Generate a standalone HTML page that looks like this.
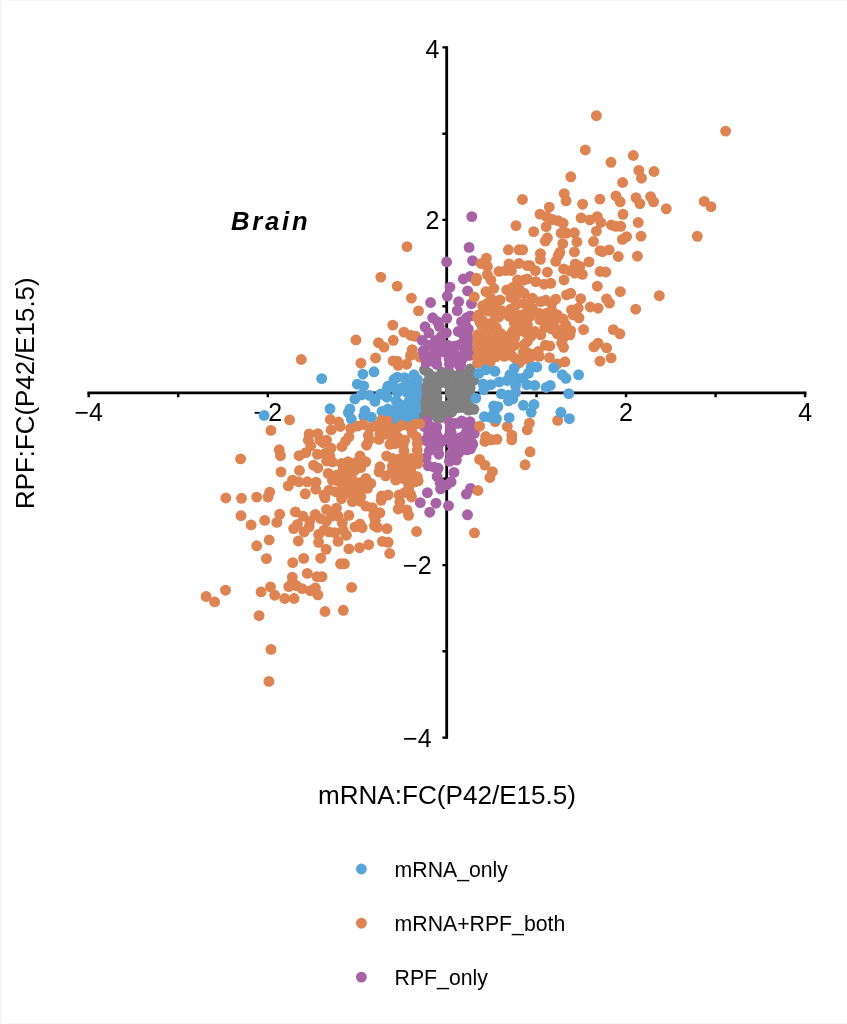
<!DOCTYPE html>
<html lang="en"><head><meta charset="utf-8"><title>Brain RPF vs mRNA fold change</title>
<style>html,body{margin:0;padding:0;background:#fff}svg{display:block;will-change:transform;transform:translateZ(0)}</style></head>
<body>
<svg width="847" height="1024" viewBox="0 0 847 1024">
<rect width="847" height="1024" fill="#fff"/>
<rect x="0" y="0" width="2" height="1024" fill="#f6f6f6"/><rect x="0" y="0" width="847" height="1" fill="#f8f8f8"/><rect x="0" y="1023" width="847" height="1" fill="#f8f8f8"/>
<g stroke="#000" fill="none">
<path d="M87.4 392.9H806.5M446.7 46.2V738.8" stroke-width="2.8"/>
<path d="M88.7 392.9V397.3M446.7 737.6H442.4M178.2 392.9V397.3M446.7 651.3H442.4M267.8 392.9V397.3M446.7 565.1H442.4M357.3 392.9V397.3M446.7 478.8H442.4M536.5 392.9V397.3M446.7 306.2H442.4M626.0 392.9V397.3M446.7 219.9H442.4M715.6 392.9V397.3M446.7 133.7H442.4M805.1 392.9V397.3M446.7 47.4H442.4" stroke-width="2.4"/>
</g>
<g font-family="Liberation Sans, Arial, Helvetica, sans-serif" font-size="25" fill="#000">
<text x="88.7" y="421.2" text-anchor="middle">−4</text>
<text x="267.8" y="421.2" text-anchor="middle">−2</text>
<text x="626.0" y="421.2" text-anchor="middle">2</text>
<text x="805.1" y="421.2" text-anchor="middle">4</text>
<text x="431.6" y="747.0" text-anchor="end">−4</text>
<text x="431.6" y="574.3" text-anchor="end">−2</text>
<text x="439.4" y="229.1" text-anchor="end">2</text>
<text x="439.4" y="57.8" text-anchor="end">4</text>
</g>
<text x="231" y="229.5" font-family="Liberation Sans, Arial, Helvetica, sans-serif" font-size="25.6" font-weight="bold" font-style="italic" letter-spacing="2.8">Brain</text>
<text transform="translate(33.8 393.2) rotate(-90)" text-anchor="middle" font-family="Liberation Sans, Arial, Helvetica, sans-serif" font-size="25.9">RPF:FC(P42/E15.5)</text>
<text x="447" y="804.3" text-anchor="middle" font-family="Liberation Sans, Arial, Helvetica, sans-serif" font-size="26.1">mRNA:FC(P42/E15.5)</text>
<g fill="#57a5d8"><circle cx="321.7" cy="378.6" r="5.45"/><circle cx="264.1" cy="415.4" r="5.45"/><circle cx="330.0" cy="408.8" r="5.45"/><circle cx="362.9" cy="374.2" r="5.45"/><circle cx="374.0" cy="371.8" r="5.45"/><circle cx="357.3" cy="384.2" r="5.45"/><circle cx="363.7" cy="386.0" r="5.45"/><circle cx="354.9" cy="399.0" r="5.45"/><circle cx="361.4" cy="394.9" r="5.45"/><circle cx="369.6" cy="395.5" r="5.45"/><circle cx="375.0" cy="401.4" r="5.45"/><circle cx="349.9" cy="409.0" r="5.45"/><circle cx="348.4" cy="412.6" r="5.45"/><circle cx="351.3" cy="419.1" r="5.45"/><circle cx="364.9" cy="410.8" r="5.45"/><circle cx="363.7" cy="416.1" r="5.45"/><circle cx="371.4" cy="417.3" r="5.45"/><circle cx="380.3" cy="394.3" r="5.45"/><circle cx="386.8" cy="390.1" r="5.45"/><circle cx="386.8" cy="397.2" r="5.45"/><circle cx="393.9" cy="379.5" r="5.45"/><circle cx="397.4" cy="377.2" r="5.45"/><circle cx="404.5" cy="377.7" r="5.45"/><circle cx="413.9" cy="374.8" r="5.45"/><circle cx="417.5" cy="379.5" r="5.45"/><circle cx="392.7" cy="385.4" r="5.45"/><circle cx="402.1" cy="387.8" r="5.45"/><circle cx="409.2" cy="384.2" r="5.45"/><circle cx="416.3" cy="386.6" r="5.45"/><circle cx="397.4" cy="392.5" r="5.45"/><circle cx="406.8" cy="392.5" r="5.45"/><circle cx="413.9" cy="393.7" r="5.45"/><circle cx="418.6" cy="396.0" r="5.45"/><circle cx="396.2" cy="400.8" r="5.45"/><circle cx="399.8" cy="404.3" r="5.45"/><circle cx="409.2" cy="400.8" r="5.45"/><circle cx="416.3" cy="403.1" r="5.45"/><circle cx="382.0" cy="411.4" r="5.45"/><circle cx="387.9" cy="409.0" r="5.45"/><circle cx="393.9" cy="410.2" r="5.45"/><circle cx="403.3" cy="411.4" r="5.45"/><circle cx="411.6" cy="409.0" r="5.45"/><circle cx="417.5" cy="410.2" r="5.45"/><circle cx="385.6" cy="416.1" r="5.45"/><circle cx="393.9" cy="417.3" r="5.45"/><circle cx="402.1" cy="417.3" r="5.45"/><circle cx="409.2" cy="416.1" r="5.45"/><circle cx="413.9" cy="413.8" r="5.45"/><circle cx="396.2" cy="420.8" r="5.45"/><circle cx="406.8" cy="419.7" r="5.45"/><circle cx="418.8" cy="415.5" r="5.45"/><circle cx="419.5" cy="387.0" r="5.45"/><circle cx="388.0" cy="386.2" r="5.45"/><circle cx="418.8" cy="404.2" r="5.45"/><circle cx="406.0" cy="405.8" r="5.45"/></g>
<g fill="#808080"><circle cx="424.5" cy="369.9" r="5.45"/><circle cx="470.1" cy="369.0" r="5.45"/><circle cx="428.6" cy="373.2" r="5.45"/><circle cx="441.9" cy="372.3" r="5.45"/><circle cx="449.4" cy="372.3" r="5.45"/><circle cx="461.0" cy="372.3" r="5.45"/><circle cx="473.4" cy="374.4" r="5.45"/><circle cx="434.4" cy="376.9" r="5.45"/><circle cx="455.2" cy="376.1" r="5.45"/><circle cx="466.0" cy="376.1" r="5.45"/><circle cx="428.2" cy="381.1" r="5.45"/><circle cx="439.4" cy="380.2" r="5.45"/><circle cx="446.9" cy="379.4" r="5.45"/><circle cx="460.2" cy="381.1" r="5.45"/><circle cx="468.5" cy="380.2" r="5.45"/><circle cx="473.9" cy="380.2" r="5.45"/><circle cx="426.9" cy="386.9" r="5.45"/><circle cx="433.6" cy="385.2" r="5.45"/><circle cx="436.9" cy="386.0" r="5.45"/><circle cx="449.4" cy="386.0" r="5.45"/><circle cx="455.2" cy="385.2" r="5.45"/><circle cx="461.8" cy="386.9" r="5.45"/><circle cx="470.1" cy="387.7" r="5.45"/><circle cx="426.9" cy="391.0" r="5.45"/><circle cx="432.8" cy="391.9" r="5.45"/><circle cx="434.4" cy="395.2" r="5.45"/><circle cx="451.9" cy="391.0" r="5.45"/><circle cx="457.7" cy="391.0" r="5.45"/><circle cx="463.5" cy="391.9" r="5.45"/><circle cx="469.8" cy="391.9" r="5.45"/><circle cx="426.9" cy="396.8" r="5.45"/><circle cx="432.8" cy="397.7" r="5.45"/><circle cx="451.9" cy="396.8" r="5.45"/><circle cx="457.7" cy="396.8" r="5.45"/><circle cx="463.5" cy="397.7" r="5.45"/><circle cx="468.5" cy="396.8" r="5.45"/><circle cx="425.7" cy="401.8" r="5.45"/><circle cx="431.9" cy="402.7" r="5.45"/><circle cx="437.7" cy="403.5" r="5.45"/><circle cx="448.5" cy="405.1" r="5.45"/><circle cx="453.5" cy="401.8" r="5.45"/><circle cx="459.3" cy="402.7" r="5.45"/><circle cx="465.1" cy="402.7" r="5.45"/><circle cx="469.3" cy="401.0" r="5.45"/><circle cx="426.1" cy="407.6" r="5.45"/><circle cx="431.9" cy="408.5" r="5.45"/><circle cx="438.6" cy="409.3" r="5.45"/><circle cx="445.2" cy="408.5" r="5.45"/><circle cx="451.9" cy="407.6" r="5.45"/><circle cx="458.5" cy="407.6" r="5.45"/><circle cx="463.5" cy="407.6" r="5.45"/><circle cx="473.9" cy="409.3" r="5.45"/><circle cx="469.3" cy="406.8" r="5.45"/><circle cx="424.5" cy="415.9" r="5.45"/><circle cx="430.3" cy="413.4" r="5.45"/><circle cx="436.9" cy="417.2" r="5.45"/><circle cx="441.1" cy="417.6" r="5.45"/><circle cx="446.9" cy="414.3" r="5.45"/><circle cx="451.9" cy="411.8" r="5.45"/><circle cx="436.5" cy="391.0" r="5.45"/><circle cx="436.9" cy="397.7" r="5.45"/><circle cx="443.1" cy="382.3" r="5.45"/><circle cx="443.6" cy="406.4" r="5.45"/><circle cx="468.5" cy="410.1" r="5.45"/><circle cx="450.2" cy="393.5" r="5.45"/></g>
<g fill="#dd8452"><circle cx="407.0" cy="246.6" r="5.45"/><circle cx="380.8" cy="277.1" r="5.45"/><circle cx="397.2" cy="286.1" r="5.45"/><circle cx="411.4" cy="298.1" r="5.45"/><circle cx="418.5" cy="310.9" r="5.45"/><circle cx="392.8" cy="325.1" r="5.45"/><circle cx="403.9" cy="332.1" r="5.45"/><circle cx="411.0" cy="335.4" r="5.45"/><circle cx="415.5" cy="336.3" r="5.45"/><circle cx="355.9" cy="339.9" r="5.45"/><circle cx="378.5" cy="342.6" r="5.45"/><circle cx="384.0" cy="347.1" r="5.45"/><circle cx="393.3" cy="340.3" r="5.45"/><circle cx="412.2" cy="349.6" r="5.45"/><circle cx="410.5" cy="355.4" r="5.45"/><circle cx="419.7" cy="357.0" r="5.45"/><circle cx="375.6" cy="357.9" r="5.45"/><circle cx="360.9" cy="363.2" r="5.45"/><circle cx="393.1" cy="360.9" r="5.45"/><circle cx="397.2" cy="361.2" r="5.45"/><circle cx="398.1" cy="365.3" r="5.45"/><circle cx="406.7" cy="364.2" r="5.45"/><circle cx="301.3" cy="359.5" r="5.45"/></g>
<g fill="#a763a5"><circle cx="471.8" cy="216.6" r="5.45"/><circle cx="469.1" cy="247.4" r="5.45"/><circle cx="472.5" cy="260.7" r="5.45"/><circle cx="463.3" cy="279.0" r="5.45"/><circle cx="470.0" cy="276.5" r="5.45"/><circle cx="446.6" cy="261.9" r="5.45"/><circle cx="450.0" cy="287.1" r="5.45"/><circle cx="447.3" cy="296.1" r="5.45"/><circle cx="430.6" cy="302.5" r="5.45"/><circle cx="458.6" cy="301.7" r="5.45"/><circle cx="457.2" cy="310.7" r="5.45"/><circle cx="467.6" cy="290.9" r="5.45"/><circle cx="471.4" cy="303.6" r="5.45"/><circle cx="432.7" cy="317.8" r="5.45"/><circle cx="446.8" cy="318.3" r="5.45"/><circle cx="437.4" cy="321.6" r="5.45"/><circle cx="425.1" cy="326.8" r="5.45"/><circle cx="439.3" cy="326.3" r="5.45"/><circle cx="428.9" cy="332.9" r="5.45"/><circle cx="461.5" cy="321.6" r="5.45"/><circle cx="466.7" cy="317.8" r="5.45"/><circle cx="465.7" cy="325.3" r="5.45"/><circle cx="470.4" cy="315.9" r="5.45"/><circle cx="446.4" cy="332.9" r="5.45"/><circle cx="458.2" cy="331.5" r="5.45"/><circle cx="441.2" cy="336.7" r="5.45"/><circle cx="463.8" cy="335.7" r="5.45"/><circle cx="467.6" cy="336.7" r="5.45"/><circle cx="422.3" cy="340.4" r="5.45"/><circle cx="435.5" cy="340.4" r="5.45"/><circle cx="431.7" cy="345.2" r="5.45"/><circle cx="441.2" cy="343.3" r="5.45"/><circle cx="447.8" cy="345.2" r="5.45"/><circle cx="454.4" cy="346.1" r="5.45"/><circle cx="461.0" cy="344.2" r="5.45"/><circle cx="466.7" cy="344.2" r="5.45"/><circle cx="423.2" cy="350.8" r="5.45"/><circle cx="435.5" cy="351.8" r="5.45"/><circle cx="442.1" cy="351.8" r="5.45"/><circle cx="470.4" cy="351.8" r="5.45"/><circle cx="425.3" cy="440.2" r="5.45"/><circle cx="433.0" cy="443.7" r="5.45"/><circle cx="429.4" cy="450.7" r="5.45"/><circle cx="438.8" cy="454.2" r="5.45"/><circle cx="451.7" cy="439.0" r="5.45"/><circle cx="459.9" cy="437.8" r="5.45"/><circle cx="472.8" cy="444.3" r="5.45"/><circle cx="470.5" cy="448.9" r="5.45"/><circle cx="462.3" cy="444.8" r="5.45"/><circle cx="455.2" cy="447.2" r="5.45"/><circle cx="458.7" cy="453.0" r="5.45"/><circle cx="450.5" cy="454.2" r="5.45"/><circle cx="456.4" cy="460.1" r="5.45"/><circle cx="449.4" cy="461.3" r="5.45"/><circle cx="428.3" cy="465.9" r="5.45"/><circle cx="434.1" cy="467.1" r="5.45"/><circle cx="438.2" cy="468.3" r="5.45"/><circle cx="454.0" cy="472.4" r="5.45"/><circle cx="437.1" cy="476.5" r="5.45"/><circle cx="440.0" cy="482.9" r="5.45"/><circle cx="451.1" cy="481.8" r="5.45"/><circle cx="447.0" cy="484.7" r="5.45"/><circle cx="440.6" cy="488.8" r="5.45"/><circle cx="427.4" cy="492.7" r="5.45"/><circle cx="470.5" cy="488.4" r="5.45"/><circle cx="466.4" cy="494.1" r="5.45"/><circle cx="420.3" cy="502.6" r="5.45"/><circle cx="435.9" cy="503.2" r="5.45"/><circle cx="448.5" cy="505.6" r="5.45"/><circle cx="429.7" cy="512.2" r="5.45"/><circle cx="467.5" cy="514.8" r="5.45"/><circle cx="426.1" cy="362.8" r="5.45"/><circle cx="424.5" cy="356.2" r="5.45"/><circle cx="431.9" cy="355.3" r="5.45"/><circle cx="436.9" cy="364.5" r="5.45"/><circle cx="436.1" cy="359.5" r="5.45"/><circle cx="449.4" cy="364.5" r="5.45"/><circle cx="449.0" cy="358.6" r="5.45"/><circle cx="455.2" cy="361.1" r="5.45"/><circle cx="459.3" cy="365.3" r="5.45"/><circle cx="461.8" cy="357.0" r="5.45"/><circle cx="469.3" cy="355.3" r="5.45"/><circle cx="465.1" cy="352.0" r="5.45"/><circle cx="426.9" cy="420.9" r="5.45"/><circle cx="424.5" cy="426.7" r="5.45"/><circle cx="431.1" cy="426.7" r="5.45"/><circle cx="436.9" cy="427.1" r="5.45"/><circle cx="428.6" cy="433.4" r="5.45"/><circle cx="436.1" cy="433.4" r="5.45"/><circle cx="449.4" cy="421.8" r="5.45"/><circle cx="450.2" cy="428.4" r="5.45"/><circle cx="449.4" cy="435.0" r="5.45"/><circle cx="455.2" cy="423.4" r="5.45"/><circle cx="458.5" cy="423.4" r="5.45"/><circle cx="464.3" cy="422.6" r="5.45"/><circle cx="470.1" cy="421.8" r="5.45"/><circle cx="472.6" cy="426.7" r="5.45"/><circle cx="471.4" cy="431.7" r="5.45"/><circle cx="474.3" cy="433.4" r="5.45"/><circle cx="465.1" cy="435.9" r="5.45"/><circle cx="451.9" cy="352.8" r="5.45"/><circle cx="455.2" cy="354.5" r="5.45"/><circle cx="431.1" cy="361.1" r="5.45"/><circle cx="461.8" cy="420.9" r="5.45"/><circle cx="426.1" cy="457.8" r="5.45"/><circle cx="468.3" cy="329.1" r="5.45"/><circle cx="468.0" cy="341.4" r="5.45"/><circle cx="468.3" cy="348.0" r="5.45"/><circle cx="460.8" cy="364.0" r="5.45"/><circle cx="429.2" cy="345.2" r="5.45"/><circle cx="463.8" cy="357.2" r="5.45"/><circle cx="459.2" cy="345.2" r="5.45"/><circle cx="441.5" cy="441.5" r="5.45"/><circle cx="438.5" cy="445.2" r="5.45"/><circle cx="452.0" cy="445.2" r="5.45"/><circle cx="467.0" cy="428.8" r="5.45"/><circle cx="451.2" cy="432.5" r="5.45"/><circle cx="471.5" cy="442.2" r="5.45"/><circle cx="467.0" cy="449.8" r="5.45"/><circle cx="443.8" cy="440.0" r="5.45"/><circle cx="437.0" cy="435.5" r="5.45"/><circle cx="428.8" cy="442.2" r="5.45"/><circle cx="437.8" cy="449.0" r="5.45"/><circle cx="465.5" cy="434.0" r="5.45"/></g>
<g fill="#dd8452"><circle cx="725.6" cy="131.1" r="5.45"/><circle cx="654.0" cy="171.5" r="5.45"/><circle cx="638.9" cy="170.4" r="5.45"/><circle cx="641.5" cy="178.2" r="5.45"/><circle cx="650.6" cy="196.7" r="5.45"/><circle cx="653.6" cy="201.8" r="5.45"/><circle cx="636.0" cy="197.7" r="5.45"/><circle cx="639.9" cy="203.6" r="5.45"/><circle cx="666.3" cy="208.8" r="5.45"/><circle cx="704.2" cy="201.4" r="5.45"/><circle cx="711.0" cy="206.7" r="5.45"/><circle cx="596.4" cy="115.7" r="5.45"/><circle cx="585.3" cy="150.0" r="5.45"/><circle cx="611.0" cy="162.3" r="5.45"/><circle cx="633.3" cy="155.5" r="5.45"/><circle cx="570.8" cy="176.8" r="5.45"/><circle cx="622.6" cy="182.5" r="5.45"/><circle cx="522.4" cy="199.5" r="5.45"/><circle cx="564.2" cy="193.6" r="5.45"/><circle cx="599.9" cy="199.1" r="5.45"/><circle cx="615.9" cy="195.9" r="5.45"/><circle cx="620.2" cy="201.8" r="5.45"/><circle cx="623.0" cy="214.3" r="5.45"/><circle cx="600.0" cy="250.7" r="5.45"/><circle cx="600.0" cy="271.5" r="5.45"/><circle cx="600.0" cy="361.2" r="5.45"/><circle cx="600.8" cy="222.5" r="5.45"/><circle cx="611.3" cy="225.0" r="5.45"/><circle cx="615.8" cy="226.3" r="5.45"/><circle cx="620.8" cy="226.3" r="5.45"/><circle cx="638.2" cy="222.5" r="5.45"/><circle cx="641.0" cy="236.1" r="5.45"/><circle cx="626.6" cy="236.6" r="5.45"/><circle cx="622.4" cy="239.4" r="5.45"/><circle cx="697.3" cy="236.3" r="5.45"/><circle cx="609.1" cy="249.9" r="5.45"/><circle cx="602.5" cy="251.6" r="5.45"/><circle cx="618.3" cy="256.5" r="5.45"/><circle cx="637.4" cy="256.2" r="5.45"/><circle cx="605.8" cy="272.0" r="5.45"/><circle cx="620.3" cy="291.6" r="5.45"/><circle cx="659.3" cy="295.7" r="5.45"/><circle cx="606.6" cy="298.9" r="5.45"/><circle cx="609.5" cy="303.1" r="5.45"/><circle cx="635.7" cy="309.2" r="5.45"/><circle cx="613.3" cy="329.6" r="5.45"/><circle cx="619.9" cy="333.8" r="5.45"/><circle cx="606.6" cy="347.9" r="5.45"/><circle cx="611.1" cy="357.9" r="5.45"/><circle cx="270.9" cy="430.4" r="5.45"/><circle cx="279.2" cy="449.8" r="5.45"/><circle cx="280.5" cy="455.6" r="5.45"/><circle cx="240.6" cy="458.9" r="5.45"/><circle cx="281.0" cy="471.9" r="5.45"/><circle cx="269.7" cy="492.2" r="5.45"/><circle cx="268.0" cy="497.1" r="5.45"/><circle cx="256.7" cy="497.1" r="5.45"/><circle cx="241.5" cy="498.3" r="5.45"/><circle cx="225.8" cy="498.0" r="5.45"/><circle cx="241.0" cy="515.7" r="5.45"/><circle cx="251.1" cy="524.9" r="5.45"/><circle cx="264.7" cy="520.4" r="5.45"/><circle cx="279.7" cy="514.3" r="5.45"/><circle cx="276.8" cy="522.4" r="5.45"/><circle cx="269.2" cy="540.0" r="5.45"/><circle cx="256.7" cy="545.8" r="5.45"/><circle cx="266.4" cy="558.6" r="5.45"/><circle cx="557.7" cy="420.4" r="5.45"/><circle cx="529.4" cy="423.2" r="5.45"/><circle cx="527.3" cy="429.9" r="5.45"/><circle cx="507.3" cy="426.5" r="5.45"/><circle cx="495.2" cy="421.6" r="5.45"/><circle cx="479.6" cy="426.2" r="5.45"/><circle cx="511.8" cy="435.2" r="5.45"/><circle cx="511.8" cy="439.8" r="5.45"/><circle cx="485.7" cy="436.5" r="5.45"/><circle cx="484.9" cy="441.5" r="5.45"/><circle cx="491.6" cy="439.8" r="5.45"/><circle cx="496.9" cy="439.3" r="5.45"/><circle cx="530.1" cy="451.8" r="5.45"/><circle cx="525.1" cy="464.8" r="5.45"/><circle cx="479.6" cy="459.4" r="5.45"/><circle cx="484.9" cy="465.1" r="5.45"/><circle cx="492.4" cy="471.7" r="5.45"/><circle cx="489.9" cy="477.5" r="5.45"/><circle cx="477.9" cy="490.5" r="5.45"/><circle cx="474.5" cy="532.9" r="5.45"/><circle cx="270.5" cy="586.9" r="5.45"/><circle cx="261.1" cy="591.9" r="5.45"/><circle cx="274.7" cy="595.2" r="5.45"/><circle cx="288.8" cy="586.6" r="5.45"/><circle cx="296.3" cy="585.7" r="5.45"/><circle cx="302.1" cy="588.6" r="5.45"/><circle cx="310.4" cy="590.7" r="5.45"/><circle cx="315.4" cy="587.9" r="5.45"/><circle cx="317.9" cy="594.9" r="5.45"/><circle cx="284.7" cy="598.5" r="5.45"/><circle cx="294.1" cy="598.5" r="5.45"/><circle cx="225.5" cy="590.2" r="5.45"/><circle cx="206.1" cy="596.5" r="5.45"/><circle cx="214.6" cy="601.9" r="5.45"/><circle cx="259.1" cy="615.6" r="5.45"/><circle cx="271.0" cy="649.4" r="5.45"/><circle cx="268.9" cy="681.4" r="5.45"/><circle cx="351.6" cy="587.4" r="5.45"/><circle cx="325.0" cy="611.5" r="5.45"/><circle cx="343.3" cy="610.3" r="5.45"/><circle cx="476.0" cy="280.8" r="5.45"/><circle cx="490.9" cy="280.0" r="5.45"/><circle cx="517.5" cy="280.0" r="5.45"/><circle cx="524.1" cy="280.0" r="5.45"/><circle cx="493.8" cy="288.3" r="5.45"/><circle cx="485.9" cy="291.6" r="5.45"/><circle cx="506.7" cy="290.0" r="5.45"/><circle cx="512.5" cy="287.5" r="5.45"/><circle cx="519.1" cy="289.1" r="5.45"/><circle cx="524.1" cy="293.3" r="5.45"/><circle cx="510.8" cy="297.4" r="5.45"/><circle cx="474.3" cy="297.0" r="5.45"/><circle cx="500.0" cy="299.9" r="5.45"/><circle cx="490.9" cy="298.3" r="5.45"/><circle cx="487.6" cy="303.3" r="5.45"/><circle cx="482.6" cy="305.7" r="5.45"/><circle cx="495.1" cy="306.6" r="5.45"/><circle cx="501.7" cy="310.7" r="5.45"/><circle cx="510.8" cy="309.1" r="5.45"/><circle cx="515.8" cy="304.9" r="5.45"/><circle cx="524.1" cy="303.3" r="5.45"/><circle cx="529.1" cy="307.4" r="5.45"/><circle cx="477.5" cy="317.4" r="5.45"/><circle cx="478.9" cy="314.9" r="5.45"/><circle cx="494.6" cy="314.5" r="5.45"/><circle cx="512.5" cy="315.7" r="5.45"/><circle cx="519.1" cy="314.9" r="5.45"/><circle cx="525.8" cy="313.2" r="5.45"/><circle cx="483.4" cy="324.8" r="5.45"/><circle cx="490.9" cy="323.2" r="5.45"/><circle cx="495.1" cy="327.3" r="5.45"/><circle cx="515.8" cy="323.2" r="5.45"/><circle cx="522.5" cy="321.5" r="5.45"/><circle cx="527.4" cy="324.8" r="5.45"/><circle cx="477.5" cy="334.8" r="5.45"/><circle cx="482.6" cy="331.5" r="5.45"/><circle cx="489.3" cy="330.7" r="5.45"/><circle cx="495.9" cy="331.5" r="5.45"/><circle cx="500.0" cy="334.0" r="5.45"/><circle cx="507.5" cy="336.5" r="5.45"/><circle cx="512.5" cy="331.5" r="5.45"/><circle cx="515.8" cy="329.8" r="5.45"/><circle cx="523.3" cy="329.8" r="5.45"/><circle cx="529.1" cy="331.5" r="5.45"/><circle cx="477.5" cy="341.4" r="5.45"/><circle cx="482.6" cy="339.8" r="5.45"/><circle cx="489.3" cy="339.8" r="5.45"/><circle cx="495.9" cy="340.6" r="5.45"/><circle cx="502.5" cy="341.4" r="5.45"/><circle cx="509.2" cy="342.3" r="5.45"/><circle cx="514.2" cy="344.8" r="5.45"/><circle cx="524.1" cy="344.8" r="5.45"/><circle cx="527.4" cy="341.4" r="5.45"/><circle cx="477.5" cy="348.9" r="5.45"/><circle cx="483.4" cy="348.1" r="5.45"/><circle cx="490.1" cy="348.9" r="5.45"/><circle cx="496.7" cy="348.1" r="5.45"/><circle cx="503.4" cy="348.9" r="5.45"/><circle cx="510.0" cy="349.8" r="5.45"/><circle cx="523.3" cy="352.2" r="5.45"/><circle cx="528.3" cy="353.1" r="5.45"/><circle cx="477.5" cy="357.2" r="5.45"/><circle cx="481.8" cy="356.4" r="5.45"/><circle cx="488.4" cy="357.2" r="5.45"/><circle cx="493.4" cy="354.7" r="5.45"/><circle cx="504.2" cy="356.4" r="5.45"/><circle cx="499.2" cy="353.1" r="5.45"/><circle cx="515.8" cy="358.9" r="5.45"/><circle cx="522.5" cy="359.7" r="5.45"/><circle cx="529.1" cy="359.7" r="5.45"/><circle cx="477.5" cy="363.0" r="5.45"/><circle cx="482.6" cy="363.0" r="5.45"/><circle cx="490.1" cy="362.2" r="5.45"/><circle cx="519.1" cy="363.0" r="5.45"/><circle cx="535.8" cy="281.7" r="5.45"/><circle cx="544.1" cy="284.2" r="5.45"/><circle cx="550.8" cy="283.3" r="5.45"/><circle cx="564.0" cy="280.0" r="5.45"/><circle cx="597.3" cy="286.2" r="5.45"/><circle cx="566.5" cy="294.9" r="5.45"/><circle cx="570.7" cy="293.3" r="5.45"/><circle cx="580.7" cy="298.7" r="5.45"/><circle cx="532.5" cy="298.3" r="5.45"/><circle cx="540.8" cy="301.6" r="5.45"/><circle cx="545.8" cy="300.3" r="5.45"/><circle cx="555.7" cy="299.1" r="5.45"/><circle cx="551.6" cy="304.1" r="5.45"/><circle cx="590.2" cy="307.0" r="5.45"/><circle cx="598.1" cy="308.2" r="5.45"/><circle cx="571.5" cy="309.9" r="5.45"/><circle cx="578.2" cy="308.2" r="5.45"/><circle cx="573.2" cy="314.9" r="5.45"/><circle cx="579.0" cy="317.8" r="5.45"/><circle cx="532.5" cy="308.2" r="5.45"/><circle cx="539.1" cy="313.2" r="5.45"/><circle cx="546.6" cy="313.2" r="5.45"/><circle cx="552.4" cy="311.6" r="5.45"/><circle cx="557.4" cy="314.9" r="5.45"/><circle cx="540.0" cy="319.9" r="5.45"/><circle cx="548.3" cy="319.0" r="5.45"/><circle cx="554.1" cy="321.5" r="5.45"/><circle cx="563.2" cy="319.0" r="5.45"/><circle cx="565.7" cy="324.8" r="5.45"/><circle cx="530.0" cy="316.5" r="5.45"/><circle cx="583.6" cy="329.6" r="5.45"/><circle cx="570.7" cy="330.7" r="5.45"/><circle cx="564.9" cy="331.5" r="5.45"/><circle cx="559.1" cy="329.8" r="5.45"/><circle cx="551.6" cy="329.0" r="5.45"/><circle cx="544.9" cy="327.3" r="5.45"/><circle cx="535.0" cy="331.5" r="5.45"/><circle cx="540.8" cy="334.8" r="5.45"/><circle cx="530.8" cy="336.5" r="5.45"/><circle cx="569.9" cy="334.8" r="5.45"/><circle cx="563.2" cy="338.1" r="5.45"/><circle cx="557.4" cy="334.0" r="5.45"/><circle cx="545.4" cy="345.2" r="5.45"/><circle cx="549.9" cy="346.0" r="5.45"/><circle cx="561.6" cy="343.1" r="5.45"/><circle cx="563.6" cy="347.3" r="5.45"/><circle cx="538.3" cy="351.4" r="5.45"/><circle cx="539.1" cy="356.4" r="5.45"/><circle cx="532.5" cy="354.7" r="5.45"/><circle cx="549.5" cy="357.6" r="5.45"/><circle cx="564.9" cy="361.8" r="5.45"/><circle cx="557.4" cy="363.9" r="5.45"/><circle cx="593.9" cy="346.8" r="5.45"/><circle cx="598.1" cy="343.1" r="5.45"/><circle cx="357.5" cy="426.1" r="5.45"/><circle cx="363.3" cy="424.5" r="5.45"/><circle cx="369.9" cy="427.8" r="5.45"/><circle cx="375.8" cy="426.1" r="5.45"/><circle cx="381.6" cy="420.3" r="5.45"/><circle cx="387.4" cy="421.1" r="5.45"/><circle cx="382.4" cy="426.9" r="5.45"/><circle cx="389.9" cy="427.8" r="5.45"/><circle cx="396.5" cy="428.6" r="5.45"/><circle cx="401.5" cy="425.3" r="5.45"/><circle cx="409.8" cy="426.9" r="5.45"/><circle cx="414.8" cy="424.5" r="5.45"/><circle cx="419.8" cy="423.6" r="5.45"/><circle cx="368.3" cy="435.3" r="5.45"/><circle cx="369.1" cy="440.2" r="5.45"/><circle cx="366.6" cy="445.2" r="5.45"/><circle cx="379.1" cy="439.4" r="5.45"/><circle cx="379.9" cy="433.6" r="5.45"/><circle cx="386.6" cy="434.4" r="5.45"/><circle cx="392.4" cy="435.3" r="5.45"/><circle cx="398.2" cy="437.7" r="5.45"/><circle cx="389.9" cy="444.4" r="5.45"/><circle cx="394.9" cy="443.6" r="5.45"/><circle cx="404.8" cy="440.2" r="5.45"/><circle cx="403.2" cy="445.2" r="5.45"/><circle cx="412.3" cy="432.8" r="5.45"/><circle cx="416.4" cy="436.9" r="5.45"/><circle cx="417.3" cy="443.6" r="5.45"/><circle cx="404.0" cy="451.0" r="5.45"/><circle cx="417.3" cy="450.2" r="5.45"/><circle cx="418.1" cy="456.8" r="5.45"/><circle cx="360.0" cy="456.0" r="5.45"/><circle cx="365.8" cy="461.8" r="5.45"/><circle cx="357.5" cy="461.8" r="5.45"/><circle cx="386.6" cy="456.0" r="5.45"/><circle cx="392.4" cy="458.5" r="5.45"/><circle cx="399.0" cy="459.3" r="5.45"/><circle cx="404.8" cy="458.5" r="5.45"/><circle cx="411.5" cy="458.5" r="5.45"/><circle cx="418.1" cy="463.5" r="5.45"/><circle cx="379.9" cy="466.8" r="5.45"/><circle cx="360.8" cy="467.6" r="5.45"/><circle cx="379.1" cy="471.8" r="5.45"/><circle cx="392.4" cy="466.0" r="5.45"/><circle cx="398.2" cy="466.8" r="5.45"/><circle cx="404.8" cy="466.0" r="5.45"/><circle cx="411.5" cy="466.8" r="5.45"/><circle cx="385.7" cy="475.9" r="5.45"/><circle cx="391.5" cy="472.6" r="5.45"/><circle cx="398.2" cy="474.3" r="5.45"/><circle cx="404.8" cy="473.4" r="5.45"/><circle cx="411.5" cy="473.4" r="5.45"/><circle cx="417.3" cy="476.8" r="5.45"/><circle cx="365.8" cy="478.4" r="5.45"/><circle cx="360.0" cy="482.6" r="5.45"/><circle cx="370.8" cy="483.4" r="5.45"/><circle cx="363.3" cy="487.6" r="5.45"/><circle cx="367.5" cy="488.4" r="5.45"/><circle cx="395.7" cy="480.1" r="5.45"/><circle cx="402.3" cy="478.4" r="5.45"/><circle cx="408.1" cy="482.6" r="5.45"/><circle cx="414.8" cy="481.8" r="5.45"/><circle cx="418.1" cy="480.9" r="5.45"/><circle cx="409.0" cy="486.7" r="5.45"/><circle cx="355.0" cy="491.7" r="5.45"/><circle cx="360.8" cy="496.7" r="5.45"/><circle cx="381.6" cy="495.9" r="5.45"/><circle cx="388.2" cy="495.0" r="5.45"/><circle cx="399.0" cy="495.0" r="5.45"/><circle cx="404.8" cy="492.5" r="5.45"/><circle cx="410.6" cy="494.2" r="5.45"/><circle cx="289.6" cy="419.9" r="5.45"/><circle cx="330.3" cy="419.5" r="5.45"/><circle cx="338.6" cy="422.0" r="5.45"/><circle cx="331.1" cy="429.9" r="5.45"/><circle cx="340.2" cy="426.5" r="5.45"/><circle cx="350.6" cy="428.6" r="5.45"/><circle cx="348.9" cy="436.9" r="5.45"/><circle cx="345.6" cy="441.1" r="5.45"/><circle cx="341.9" cy="446.5" r="5.45"/><circle cx="309.1" cy="434.0" r="5.45"/><circle cx="317.8" cy="433.6" r="5.45"/><circle cx="308.3" cy="440.2" r="5.45"/><circle cx="310.7" cy="446.0" r="5.45"/><circle cx="319.9" cy="440.2" r="5.45"/><circle cx="326.5" cy="440.2" r="5.45"/><circle cx="323.2" cy="442.7" r="5.45"/><circle cx="331.1" cy="448.1" r="5.45"/><circle cx="305.8" cy="452.7" r="5.45"/><circle cx="299.1" cy="455.6" r="5.45"/><circle cx="317.4" cy="454.3" r="5.45"/><circle cx="324.9" cy="453.5" r="5.45"/><circle cx="329.8" cy="456.0" r="5.45"/><circle cx="326.5" cy="461.0" r="5.45"/><circle cx="332.3" cy="461.8" r="5.45"/><circle cx="313.6" cy="465.1" r="5.45"/><circle cx="317.8" cy="468.0" r="5.45"/><circle cx="299.5" cy="470.5" r="5.45"/><circle cx="328.2" cy="473.4" r="5.45"/><circle cx="341.5" cy="463.5" r="5.45"/><circle cx="348.1" cy="461.8" r="5.45"/><circle cx="353.9" cy="463.5" r="5.45"/><circle cx="343.1" cy="469.3" r="5.45"/><circle cx="349.8" cy="470.1" r="5.45"/><circle cx="336.5" cy="475.1" r="5.45"/><circle cx="355.0" cy="470.1" r="5.45"/><circle cx="332.3" cy="480.1" r="5.45"/><circle cx="338.1" cy="480.9" r="5.45"/><circle cx="344.8" cy="478.4" r="5.45"/><circle cx="351.4" cy="477.6" r="5.45"/><circle cx="292.5" cy="480.1" r="5.45"/><circle cx="288.3" cy="485.9" r="5.45"/><circle cx="298.7" cy="481.8" r="5.45"/><circle cx="307.4" cy="481.8" r="5.45"/><circle cx="316.1" cy="482.2" r="5.45"/><circle cx="315.7" cy="489.2" r="5.45"/><circle cx="305.3" cy="493.8" r="5.45"/><circle cx="329.0" cy="490.1" r="5.45"/><circle cx="335.7" cy="491.7" r="5.45"/><circle cx="324.0" cy="495.0" r="5.45"/><circle cx="343.1" cy="486.7" r="5.45"/><circle cx="349.8" cy="485.1" r="5.45"/><circle cx="355.0" cy="482.6" r="5.45"/><circle cx="345.6" cy="493.4" r="5.45"/><circle cx="352.3" cy="492.5" r="5.45"/><circle cx="324.9" cy="497.8" r="5.45"/><circle cx="341.5" cy="498.7" r="5.45"/><circle cx="352.3" cy="501.6" r="5.45"/><circle cx="295.4" cy="511.9" r="5.45"/><circle cx="302.9" cy="516.1" r="5.45"/><circle cx="315.3" cy="514.4" r="5.45"/><circle cx="326.5" cy="509.5" r="5.45"/><circle cx="336.5" cy="508.2" r="5.45"/><circle cx="348.9" cy="515.3" r="5.45"/><circle cx="297.5" cy="524.4" r="5.45"/><circle cx="293.7" cy="528.6" r="5.45"/><circle cx="304.1" cy="531.9" r="5.45"/><circle cx="309.1" cy="526.9" r="5.45"/><circle cx="309.9" cy="521.1" r="5.45"/><circle cx="320.7" cy="518.6" r="5.45"/><circle cx="326.5" cy="521.1" r="5.45"/><circle cx="331.5" cy="516.1" r="5.45"/><circle cx="338.1" cy="516.1" r="5.45"/><circle cx="342.3" cy="522.7" r="5.45"/><circle cx="329.0" cy="531.9" r="5.45"/><circle cx="334.8" cy="532.7" r="5.45"/><circle cx="324.0" cy="530.2" r="5.45"/><circle cx="343.1" cy="530.2" r="5.45"/><circle cx="346.4" cy="535.2" r="5.45"/><circle cx="318.6" cy="534.4" r="5.45"/><circle cx="318.6" cy="542.3" r="5.45"/><circle cx="338.1" cy="541.4" r="5.45"/><circle cx="298.3" cy="541.0" r="5.45"/><circle cx="326.1" cy="549.3" r="5.45"/><circle cx="348.9" cy="548.9" r="5.45"/><circle cx="303.7" cy="558.4" r="5.45"/><circle cx="320.7" cy="558.2" r="5.45"/><circle cx="292.7" cy="562.6" r="5.45"/><circle cx="340.6" cy="563.8" r="5.45"/><circle cx="344.4" cy="563.8" r="5.45"/><circle cx="307.3" cy="573.4" r="5.45"/><circle cx="317.0" cy="576.7" r="5.45"/><circle cx="322.0" cy="576.7" r="5.45"/><circle cx="292.3" cy="577.1" r="5.45"/><circle cx="355.0" cy="526.9" r="5.45"/><circle cx="292.5" cy="582.0" r="5.45"/><circle cx="360.0" cy="501.2" r="5.45"/><circle cx="365.8" cy="506.1" r="5.45"/><circle cx="372.4" cy="507.8" r="5.45"/><circle cx="381.2" cy="500.3" r="5.45"/><circle cx="399.8" cy="502.0" r="5.45"/><circle cx="398.2" cy="509.0" r="5.45"/><circle cx="406.9" cy="509.9" r="5.45"/><circle cx="408.6" cy="515.3" r="5.45"/><circle cx="411.5" cy="497.0" r="5.45"/><circle cx="379.9" cy="512.8" r="5.45"/><circle cx="373.7" cy="515.3" r="5.45"/><circle cx="375.3" cy="520.3" r="5.45"/><circle cx="374.5" cy="525.6" r="5.45"/><circle cx="377.4" cy="527.3" r="5.45"/><circle cx="387.0" cy="528.6" r="5.45"/><circle cx="360.0" cy="524.0" r="5.45"/><circle cx="362.1" cy="527.7" r="5.45"/><circle cx="416.6" cy="531.5" r="5.45"/><circle cx="368.7" cy="544.7" r="5.45"/><circle cx="359.6" cy="547.7" r="5.45"/><circle cx="382.4" cy="541.4" r="5.45"/><circle cx="388.2" cy="542.3" r="5.45"/><circle cx="389.7" cy="553.5" r="5.45"/><circle cx="498.8" cy="317.0" r="5.45"/><circle cx="488.0" cy="311.1" r="5.45"/><circle cx="482.6" cy="320.7" r="5.45"/><circle cx="514.6" cy="338.1" r="5.45"/><circle cx="515.8" cy="296.6" r="5.45"/><circle cx="549.3" cy="207.1" r="5.45"/><circle cx="540.0" cy="214.1" r="5.45"/><circle cx="546.6" cy="216.6" r="5.45"/><circle cx="552.4" cy="219.5" r="5.45"/><circle cx="558.2" cy="220.8" r="5.45"/><circle cx="563.2" cy="223.3" r="5.45"/><circle cx="546.2" cy="226.6" r="5.45"/><circle cx="533.7" cy="231.6" r="5.45"/><circle cx="561.1" cy="233.2" r="5.45"/><circle cx="566.5" cy="233.2" r="5.45"/><circle cx="574.4" cy="232.8" r="5.45"/><circle cx="547.4" cy="237.8" r="5.45"/><circle cx="545.4" cy="241.1" r="5.45"/><circle cx="562.8" cy="243.6" r="5.45"/><circle cx="576.9" cy="241.9" r="5.45"/><circle cx="574.4" cy="251.9" r="5.45"/><circle cx="540.4" cy="253.6" r="5.45"/><circle cx="540.4" cy="259.4" r="5.45"/><circle cx="559.9" cy="252.3" r="5.45"/><circle cx="558.2" cy="255.6" r="5.45"/><circle cx="555.7" cy="261.4" r="5.45"/><circle cx="589.0" cy="261.9" r="5.45"/><circle cx="575.3" cy="263.9" r="5.45"/><circle cx="579.8" cy="266.4" r="5.45"/><circle cx="563.6" cy="268.9" r="5.45"/><circle cx="569.9" cy="270.6" r="5.45"/><circle cx="574.8" cy="273.1" r="5.45"/><circle cx="582.3" cy="274.3" r="5.45"/><circle cx="547.4" cy="272.2" r="5.45"/><circle cx="535.4" cy="270.6" r="5.45"/><circle cx="530.0" cy="265.6" r="5.45"/><circle cx="566.1" cy="200.8" r="5.45"/><circle cx="582.6" cy="204.2" r="5.45"/><circle cx="581.1" cy="217.9" r="5.45"/><circle cx="589.8" cy="219.9" r="5.45"/><circle cx="597.3" cy="216.6" r="5.45"/><circle cx="596.4" cy="231.1" r="5.45"/><circle cx="593.5" cy="241.5" r="5.45"/><circle cx="516.0" cy="225.6" r="5.45"/><circle cx="508.4" cy="249.8" r="5.45"/><circle cx="519.0" cy="249.8" r="5.45"/><circle cx="522.7" cy="249.8" r="5.45"/><circle cx="486.4" cy="258.1" r="5.45"/><circle cx="481.2" cy="263.5" r="5.45"/><circle cx="487.4" cy="266.4" r="5.45"/><circle cx="509.0" cy="263.9" r="5.45"/><circle cx="519.0" cy="263.5" r="5.45"/><circle cx="527.3" cy="265.6" r="5.45"/><circle cx="499.0" cy="271.4" r="5.45"/><circle cx="505.7" cy="270.6" r="5.45"/><circle cx="511.5" cy="270.6" r="5.45"/><circle cx="476.6" cy="278.1" r="5.45"/><circle cx="487.4" cy="274.7" r="5.45"/><circle cx="527.3" cy="278.9" r="5.45"/><circle cx="509.0" cy="316.2" r="5.45"/><circle cx="512.0" cy="356.0" r="5.45"/><circle cx="479.8" cy="322.2" r="5.45"/><circle cx="495.5" cy="356.8" r="5.45"/><circle cx="524.8" cy="332.0" r="5.45"/><circle cx="514.2" cy="323.0" r="5.45"/><circle cx="496.2" cy="327.5" r="5.45"/><circle cx="500.8" cy="333.5" r="5.45"/><circle cx="518.8" cy="331.2" r="5.45"/><circle cx="482.0" cy="326.0" r="5.45"/><circle cx="514.2" cy="345.5" r="5.45"/></g>
<g fill="#57a5d8"><circle cx="485.8" cy="369.8" r="5.45"/><circle cx="495.0" cy="371.3" r="5.45"/><circle cx="514.2" cy="368.4" r="5.45"/><circle cx="509.9" cy="374.8" r="5.45"/><circle cx="531.2" cy="367.7" r="5.45"/><circle cx="536.8" cy="367.0" r="5.45"/><circle cx="528.3" cy="373.4" r="5.45"/><circle cx="522.7" cy="378.3" r="5.45"/><circle cx="553.8" cy="367.7" r="5.45"/><circle cx="562.3" cy="374.8" r="5.45"/><circle cx="565.9" cy="378.3" r="5.45"/><circle cx="578.6" cy="374.8" r="5.45"/><circle cx="478.8" cy="373.4" r="5.45"/><circle cx="483.0" cy="384.0" r="5.45"/><circle cx="490.8" cy="384.7" r="5.45"/><circle cx="499.3" cy="381.9" r="5.45"/><circle cx="507.1" cy="380.5" r="5.45"/><circle cx="515.6" cy="385.4" r="5.45"/><circle cx="517.0" cy="378.3" r="5.45"/><circle cx="526.9" cy="384.7" r="5.45"/><circle cx="534.7" cy="385.4" r="5.45"/><circle cx="546.1" cy="387.5" r="5.45"/><circle cx="550.3" cy="385.4" r="5.45"/><circle cx="483.7" cy="389.7" r="5.45"/><circle cx="501.4" cy="393.9" r="5.45"/><circle cx="508.5" cy="395.3" r="5.45"/><circle cx="515.6" cy="392.5" r="5.45"/><circle cx="512.8" cy="398.9" r="5.45"/><circle cx="508.5" cy="401.0" r="5.45"/><circle cx="568.7" cy="393.6" r="5.45"/><circle cx="475.9" cy="398.2" r="5.45"/><circle cx="493.6" cy="406.0" r="5.45"/><circle cx="497.9" cy="406.7" r="5.45"/><circle cx="494.3" cy="412.3" r="5.45"/><circle cx="523.4" cy="405.3" r="5.45"/><circle cx="534.0" cy="404.5" r="5.45"/><circle cx="531.2" cy="412.3" r="5.45"/><circle cx="560.9" cy="412.3" r="5.45"/><circle cx="569.4" cy="418.7" r="5.45"/><circle cx="484.4" cy="416.6" r="5.45"/><circle cx="490.8" cy="417.3" r="5.45"/><circle cx="496.5" cy="418.7" r="5.45"/><circle cx="509.2" cy="417.7" r="5.45"/></g>
<circle cx="361.4" cy="869" r="5.45" fill="#57a5d8"/><circle cx="361.4" cy="923.2" r="5.45" fill="#dd8452"/><circle cx="361.4" cy="977.1" r="5.45" fill="#a763a5"/>
<g font-family="Liberation Sans, Arial, Helvetica, sans-serif" font-size="21.25" fill="#000"><text x="394.6" y="877.3">mRNA_only</text><text x="394.6" y="930.8">mRNA+RPF_both</text><text x="394.6" y="984.7">RPF_only</text></g>
</svg>
</body></html>
